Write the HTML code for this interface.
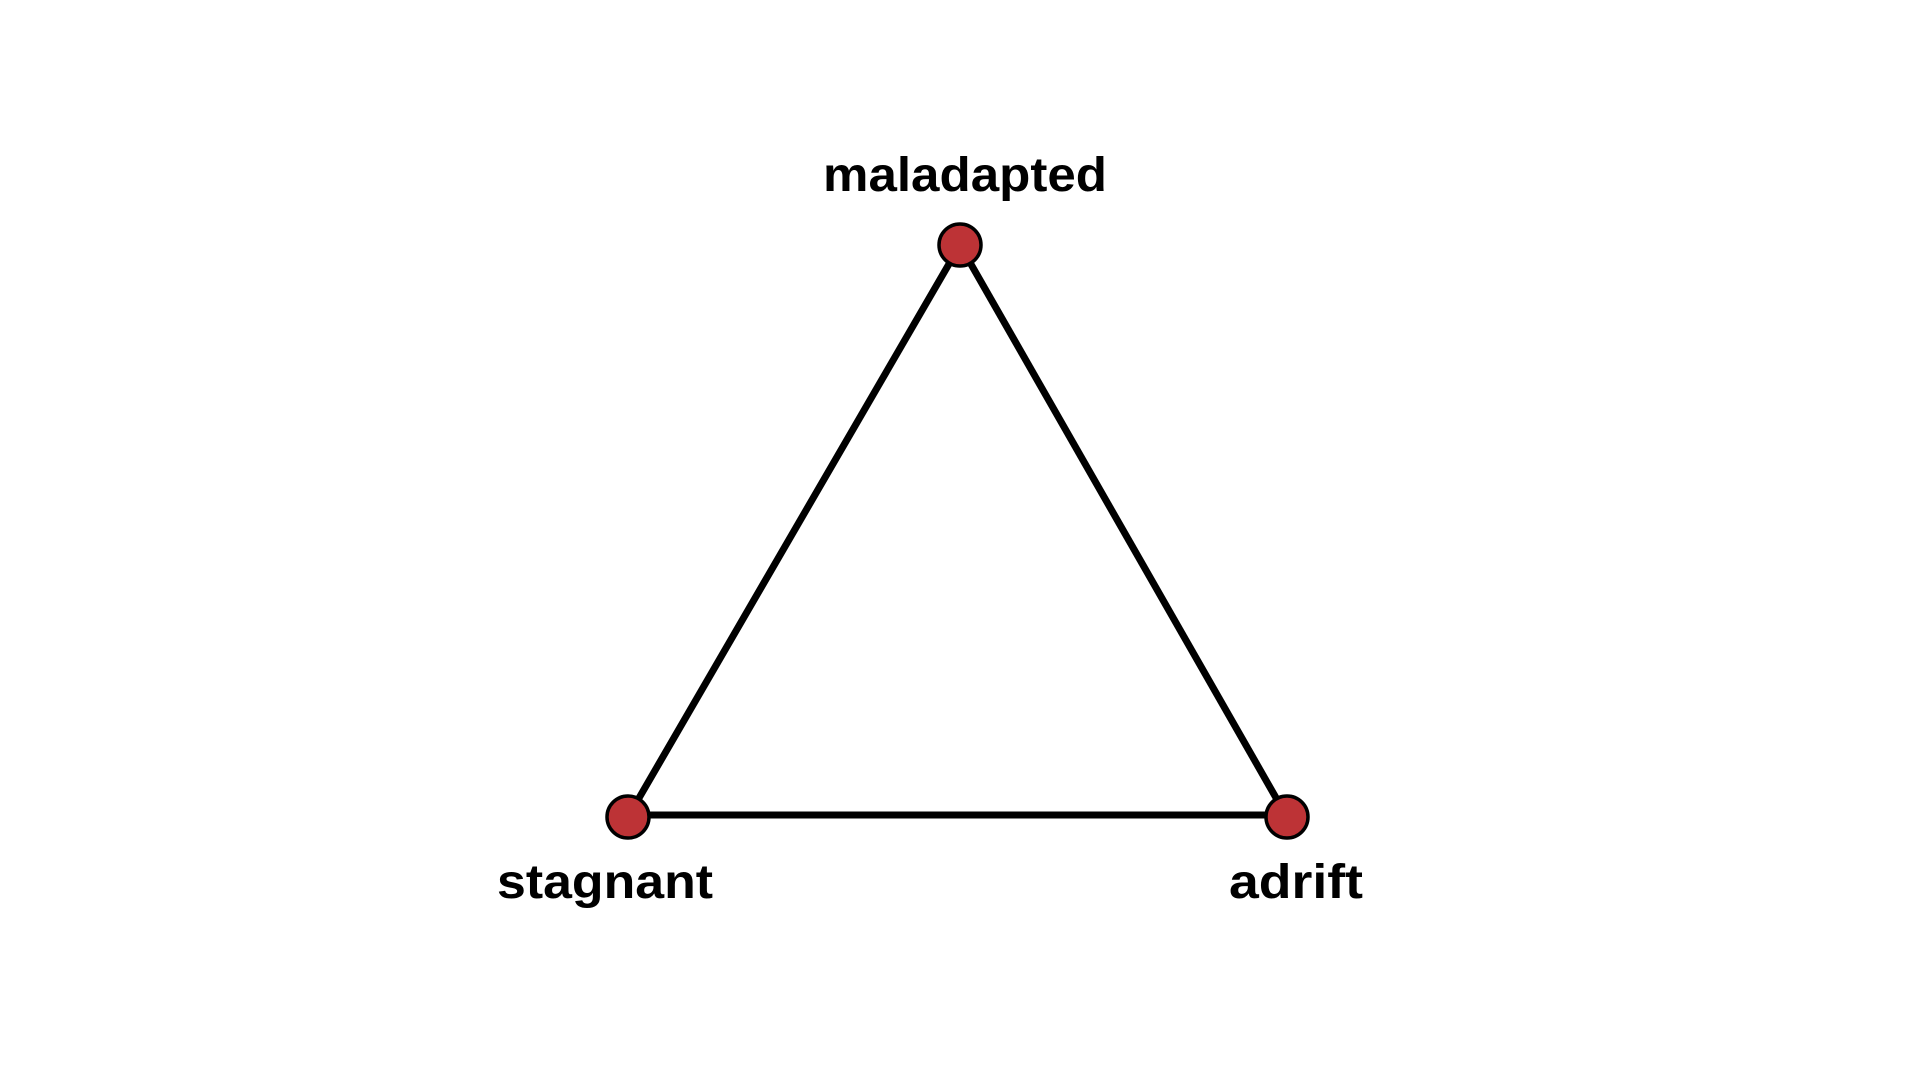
<!DOCTYPE html>
<html><head><style>
html,body{margin:0;padding:0;background:#fff;}
svg{display:block}
text{font-family:"Liberation Sans",sans-serif;font-weight:bold;font-size:48px;fill:#000}
</style></head><body>
<svg width="1920" height="1080" viewBox="0 0 1920 1080">
<g stroke="#000" stroke-width="7" fill="none">
<line x1="960" y1="245" x2="628" y2="817"/>
<line x1="960" y1="245" x2="1287" y2="817"/>
<line x1="628" y1="815" x2="1287" y2="815"/>
</g>
<g fill="#bd3336" stroke="#000" stroke-width="3.5">
<circle cx="960" cy="245" r="21"/>
<circle cx="628" cy="817" r="21"/>
<circle cx="1287" cy="817" r="21"/>
</g>
<text x="965" y="191" text-anchor="middle" textLength="284" lengthAdjust="spacingAndGlyphs">maladapted</text>
<text x="605" y="898" text-anchor="middle" textLength="216" lengthAdjust="spacingAndGlyphs">stagnant</text>
<text x="1296" y="898" text-anchor="middle" textLength="134" lengthAdjust="spacingAndGlyphs">adrift</text>
</svg>
</body></html>
